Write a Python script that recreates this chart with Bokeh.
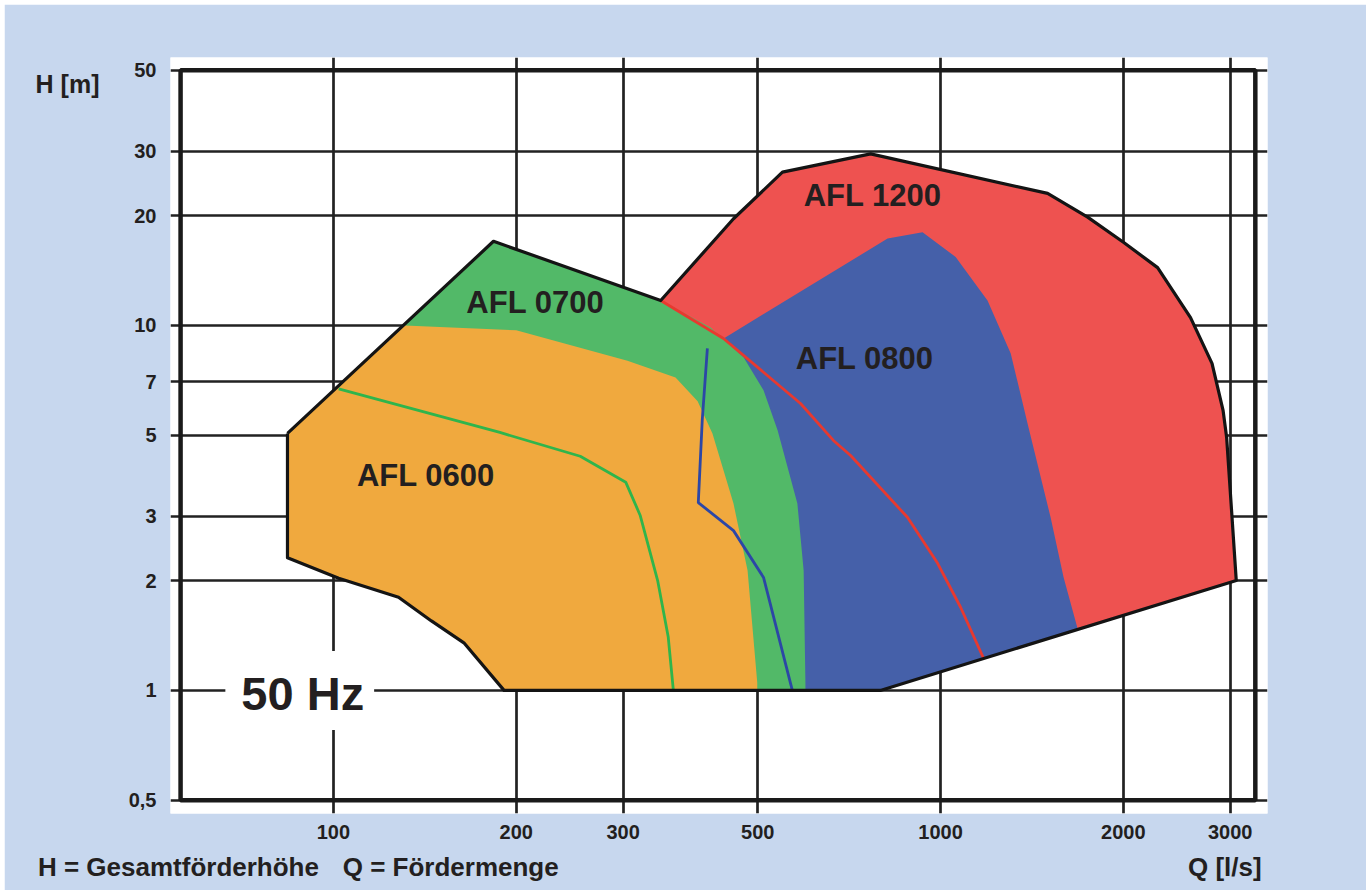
from bokeh.plotting import figure
from bokeh.models import Range1d, FixedTicker, Label, ColumnDataSource, LogAxis
from bokeh.core.properties import value
from bokeh.embed import file_html
from bokeh.resources import INLINE

# ---------------- data ----------------
Q_TICKS = [100, 200, 300, 500, 1000, 2000, 3000]
Q_TICK_LABELS = ["100", "200", "300", "500", "1000", "2000", "3000"]
H_TICKS = [0.5, 1, 2, 3, 5, 7, 10, 20, 30, 50]
H_TICK_LABELS = ["0,5", "1", "2", "3", "5", "7", "10", "20", "30", "50"]

Q_MIN, Q_MAX = 56, 3300
H_MIN, H_MAX = 0.5, 50

# AFL 0600 (orange) field
Q_0600 = [84, 131, 200, 305, 366, 398, 421, 456, 481, 499, 499, 191, 164, 145, 128, 102, 84]
H_0600 = [5.06, 10.0, 9.7, 8.0, 7.2, 6.2, 5.06, 3.25, 2.13, 1.05, 1.0, 1.0, 1.35, 1.55, 1.8, 2.03, 2.31]

# AFL 0700 (green) field: outer edge and lower-left limit curve
Q_0700_TOP = [102, 183.5, 346, 418, 474, 511, 539, 581, 595, 599, 599]
H_0700_TOP = [6.85, 17.0, 11.7, 9.87, 8.17, 6.64, 5.16, 3.25, 2.13, 1.05, 1.0]
Q_0700_CURVE = [102, 188, 255, 303, 320, 342, 356, 363]
H_0700_CURVE = [6.7, 5.09, 4.38, 3.72, 3.02, 2.0, 1.4, 1.0]

# AFL 0800 (blue) field
Q_0800_TOP = [413, 818, 934, 1059, 1195, 1305, 1391, 1518, 1595, 1682, 796]
H_0800_TOP = [8.65, 17.3, 18.0, 15.4, 11.7, 8.38, 5.39, 2.98, 2.04, 1.475, 1.0]
Q_0800_CURVE = [413, 405, 399, 456, 511, 570]
H_0800_CURVE = [8.65, 5.49, 3.27, 2.74, 2.04, 1.0]

# AFL 1200 (red) field
Q_1200_TOP = [346, 456, 549, 767, 1501, 1747, 2001, 2278, 2581, 2800, 2920, 2960, 3070, 1177]
H_1200_TOP = [11.7, 19.6, 26.3, 29.5, 23.0, 19.8, 16.9, 14.4, 10.5, 7.87, 5.85, 4.93, 2.0, 1.225]
Q_1200_CURVE = [346, 439, 588, 666, 711, 882, 989, 1079, 1177]
H_1200_CURVE = [11.7, 9.21, 6.11, 4.84, 4.4, 2.98, 2.23, 1.69, 1.225]

# overall envelope (black outline)
Q_ENV = [84, 183.5, 346, 456, 549, 767, 1501, 1747, 2001, 2278, 2581, 2800, 2920, 2960, 3070,
         796, 191, 164, 145, 128, 102, 84, 84]
H_ENV = [5.06, 17.0, 11.7, 19.6, 26.3, 29.5, 23.0, 19.8, 16.9, 14.4, 10.5, 7.87, 5.85, 4.93, 2.0,
         1.0, 1.0, 1.35, 1.55, 1.8, 2.03, 2.31, 5.06]

LABEL_TEXT = ["AFL 0600", "AFL 0700", "AFL 0800", "AFL 1200"]
LABEL_Q = [142, 215, 750, 773]
LABEL_H = [3.88, 11.56, 8.12, 22.7]

# axis titles / legend line
H_TITLE = "H [m]"
BOTTOM_TEXTS = ["H = Gesamtförderhöhe", "Q = Fördermenge", "Q [l/s]"]

FONT = "Liberation Sans"
TXT = "#231f20"

# ---------------- figure ----------------
W, H = 1362, 886
p = figure(width=W, height=H, x_axis_type="log", y_axis_type="log",
           x_range=Range1d(53.9, 3456), y_range=Range1d(0.46, 54.2),
           output_backend="svg", toolbar_location=None, title=None,
           min_border_left=166, min_border_right=99, min_border_top=53, min_border_bottom=77,
           background_fill_color="white", border_fill_color="#c7d7ee", outline_line_color=None)
p.margin = (4, 6, 4, 4)

for g, t in ((p.xgrid, Q_TICKS), (p.ygrid, H_TICKS)):
    g.ticker = FixedTicker(ticks=t)
    g.grid_line_color = "#222222"
    g.grid_line_width = 2.7
    g.grid_line_alpha = 1.0


def style_axis(ax, size):
    ax.axis_line_color = None
    ax.major_tick_line_color = None
    ax.minor_tick_line_color = None
    ax.major_label_text_font = FONT
    ax.major_label_text_font_style = "bold"
    ax.major_label_text_font_size = size
    ax.major_label_text_color = TXT


p.xaxis.ticker = FixedTicker(ticks=Q_TICKS)
p.xaxis.major_label_overrides = {t: l for t, l in zip(Q_TICKS, Q_TICK_LABELS)}
p.yaxis.ticker = FixedTicker(ticks=H_TICKS)
p.yaxis.major_label_overrides = {t: l for t, l in zip(H_TICKS, H_TICK_LABELS)}
style_axis(p.xaxis[0], "20px")
style_axis(p.yaxis[0], "20px")
p.xaxis.major_label_standoff = 5
p.yaxis.major_label_standoff = 8

# outer axes carrying the axis titles
title_h_pos = [46]
ax_h = LogAxis(ticker=FixedTicker(ticks=title_h_pos),
               major_label_overrides={title_h_pos[0]: H_TITLE})
style_axis(ax_h, "25px")
ax_h.major_label_standoff = 20
p.add_layout(ax_h, "left")

bottom_pos = [55.55, 156, 2940]
ax_q = LogAxis(ticker=FixedTicker(ticks=bottom_pos),
               major_label_overrides={t: l for t, l in zip(bottom_pos, BOTTOM_TEXTS)})
style_axis(ax_q, "26px")
ax_q.major_label_standoff = 4
p.add_layout(ax_q, "below")

# fills (back to front)
p.patch(Q_1200_TOP + Q_1200_CURVE[::-1], H_1200_TOP + H_1200_CURVE[::-1],
        fill_color="#ee5250", line_color=None)
p.patch(Q_0800_TOP + Q_0800_CURVE[::-1], H_0800_TOP + H_0800_CURVE[::-1],
        fill_color="#4560a9", line_color=None)
p.patch(Q_0700_TOP + Q_0700_CURVE[::-1], H_0700_TOP + H_0700_CURVE[::-1],
        fill_color="#52b968", line_color=None)
p.patch(Q_0600, H_0600, fill_color="#f0a93e", line_color=None)

# lower limit curves
p.line(Q_0700_CURVE, H_0700_CURVE, line_color="#2fb54c", line_width=2.8)
p.line(Q_0800_CURVE, H_0800_CURVE, line_color="#2c47a6", line_width=2.8)
p.line(Q_1200_CURVE, H_1200_CURVE, line_color="#e8392f", line_width=2.8)

# envelope outline
p.line(Q_ENV, H_ENV, line_color="#141414", line_width=3.2, line_join="round")

# chart frame
p.quad(left=Q_MIN, right=Q_MAX, bottom=H_MIN, top=H_MAX, fill_color=None,
       line_color="#1a1a1a", line_width=4.5)

src = ColumnDataSource(dict(q=LABEL_Q, h=LABEL_H, t=LABEL_TEXT))
p.text(x="q", y="h", text="t", source=src, text_font=value(FONT), text_font_style="bold",
       text_font_size="31px", text_align="center", text_baseline="middle", text_color=TXT)

p.add_layout(Label(x=88, y=1.0, text="50 Hz", text_font=FONT, text_font_style="bold",
                   text_font_size="47px", text_color=TXT, text_align="center",
                   text_baseline="middle", background_fill_color="white",
                   padding=(16, 10, 16, 10)))

open("out.html", "w").write(file_html(p, INLINE))
